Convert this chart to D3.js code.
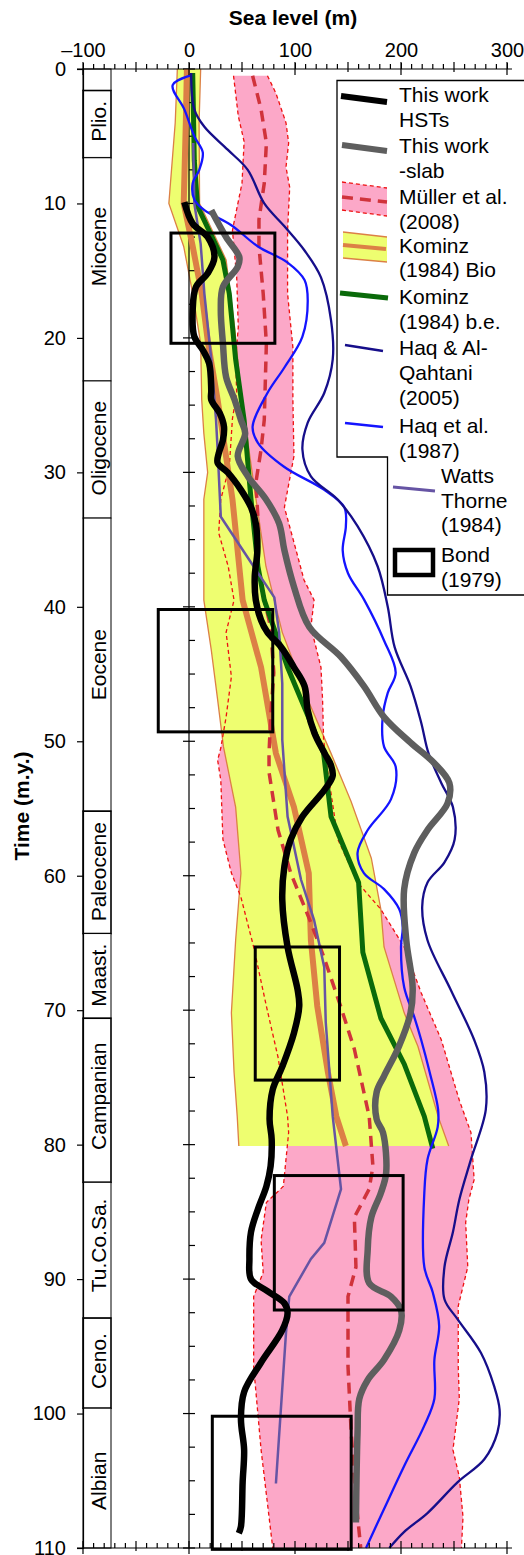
<!DOCTYPE html>
<html><head><meta charset="utf-8">
<script src="https://cdn.jsdelivr.net/npm/d3@7"></script>
<style>
body{margin:0;background:#fff}
svg{display:block}
text{font-family:"Liberation Sans",Arial,Helvetica,sans-serif;fill:#000}
</style>
</head><body>
<svg id="chart" width="524" height="1555"></svg>
<script>
// ---------- tick labels ----------
const seaTicks = [-100, 0, 100, 200, 300];
const timeTicks = [0, 10, 20, 30, 40, 50, 60, 70, 80, 90, 100, 110];

// ---------- stratigraphic column ----------
const stageNames = ["", "Plio.", "Miocene", "Oligocene", "Eocene", "Paleocene", "Maast.", "Campanian", "Tu.Co.Sa.", "Ceno.", "Albian"];
const stageTop = [0, 1.6, 6.6, 23.2, 33.4, 55.2, 64.3, 70.6, 82.8, 92.9, 99.6];
const stageBottom = [1.6, 6.6, 23.2, 33.4, 55.2, 64.3, 70.6, 82.8, 92.9, 99.6, 110];
const stageLabelTime = [null, 3.9, 13.2, 28.2, 44.3, 59.7, 67.4, 76.4, 87.5, 96.1, 105];

// ---------- series: [time (m.y.), sea level (m)] ----------
const hstCurve = [[9.9,-4.4],[11.5,3.5],[12.5,17.6],[14,24],[15.2,17.6],[16.2,6.6],[17.9,3.5],[19.9,5],[20.9,13],[21.9,19],[23.9,21],[24.6,21],[25.6,29],[26.6,33],[27.6,32],[28.6,28],[29.3,27],[30,36.5],[31.3,49],[32.6,58.5],[33.8,63],[35.8,64.5],[37.8,62],[39.5,63],[41,68],[41.9,74],[43,87],[44.5,99],[45.9,109],[47.7,112],[49.4,118.4],[50.9,128],[51.8,134],[52.6,135.5],[53.6,128],[55.6,107],[57.3,96],[59.3,90],[61.8,88],[65.3,93],[68.5,102.5],[69.7,104],[71.7,99],[74.2,88],[75.9,79],[78.1,76],[79.6,78],[81.6,77],[83.1,73],[84.8,65],[86.5,58.5],[88.5,57],[90,58.5],[90.9,74],[91.8,90],[92.5,93],[93.8,88],[96.2,68],[98.4,52],[100.4,49],[102.7,52],[105.1,50.6],[108.4,49],[108.9,47]];

const slabCurve = [[10.5,21],[12.5,35],[14,47.5],[14.7,46],[16.2,32],[17.9,30],[20.4,32],[22.9,35],[24.6,43],[26.1,49],[27.1,53],[28.8,46],[30.3,55.6],[32,72.6],[33.8,85],[35.8,90],[38.5,99],[41.5,113.5],[43.7,143],[45.9,165],[48.2,184],[50.1,209],[51.6,231],[53.1,245.6],[54.6,244],[56.6,225],[58.3,212.5],[61,203],[64.8,205],[68.3,211],[70.2,209],[72.7,198],[74.9,184],[76.1,177],[78.1,177],[79.1,183],[82.1,186],[83.6,181],[85.4,172],[87.8,168.6],[90.3,170],[91.3,190.6],[92.3,200],[93.8,198.4],[96,184],[97.5,168.6],[98.9,160.7],[101.4,159],[108.1,157.5]];

const mullerLow = [[0.5,42],[3.5,46.5],[5.4,52],[8.5,50],[11.2,43],[12,41],[15.5,45],[19.2,46.5],[21.6,44],[24.1,45],[26,41],[29.6,38],[32,30],[34.5,28],[37,37],[39.5,42.5],[41.9,35],[45.2,40],[48.2,35],[50.5,30],[51.4,27],[52.9,30],[57.3,32],[59.8,40],[61.6,49],[65.3,61],[69.7,73],[73.5,84],[77.9,93],[79.1,94],[83.1,89],[84.3,73],[87.1,68],[89.5,70],[91.3,61],[96.5,61],[102.7,68],[110,79]];
const mullerHigh = [[0.5,74],[1.8,82],[4,91.5],[5.5,94],[7.3,91.5],[8.8,95],[12,93],[16.7,93],[20.7,98],[24.6,98],[28.8,99],[32.6,90],[35.2,99],[38,108.5],[39.5,118],[41.5,115],[44.5,124.5],[46.9,126],[49.9,127],[52.3,131],[57.3,140.5],[60.5,159],[62.5,181],[65.3,203],[68.7,219],[72.2,238],[76.7,255],[79.1,266],[82.6,269],[84.1,264],[85.8,261],[89.1,263],[92,254],[96.5,254],[98.9,255],[102.7,249],[104.7,255],[107.7,258.5],[110,257]];
const mullerMid = [[0.5,60],[3,68],[5.5,73],[8.5,71],[11.2,66],[13.2,66],[16.7,70],[20.4,73],[26.1,71],[28.3,68],[30.8,63],[33.3,65],[37,65],[39.5,71],[41.5,77],[44.9,80],[48.2,77],[50.9,75.5],[52.3,75.5],[56.6,84],[59.8,96],[63.5,115],[66,127],[69.7,143],[72.9,156],[77.9,170],[81.6,173.5],[83.3,170],[85.4,156],[89.1,157.5],[91.3,150],[96.5,150],[101.4,153],[106.4,157.5],[110,162]];

const kominzBioLow = [[0,-11],[4,-13],[10,-19],[13.2,-5],[16.7,3.5],[20.4,11],[24.6,12],[27.1,14],[30,17.6],[32,14],[39.5,14],[43.2,21],[46.9,27],[50.4,32.5],[54.9,44],[59.8,49],[64.8,44],[70.2,40],[74.6,42.5],[77.9,45.5],[80.1,47]];
const kominzBioHigh = [[0,11],[4,9.5],[10,10],[14.2,35],[19.2,43],[24.1,49],[30.8,61],[37,72.6],[41.9,88],[46.9,112],[50.9,134],[54.5,153],[58.7,172],[62.5,181],[65.3,184],[70.2,203],[72.7,216],[77.9,235],[80.1,245]];
const kominzBioMid = [[0,-2],[4,-3],[10,-5],[13.2,3.5],[16.7,12],[20.4,18],[24.6,27],[32,41],[39.5,50.6],[44.5,68],[50.9,82],[54.9,99],[59.8,113],[64.8,115],[69.7,121],[74.6,131],[77.9,139],[80.1,148]];
const kominzBE = [[0.3,3.5],[6.8,5],[10.2,8],[14.2,32],[16.7,38],[21.6,44],[26.1,52],[32,58.5],[37,65],[39.5,71],[44.5,93],[50.9,127],[55.6,134],[60.5,160],[65.7,164],[70.6,181],[74,203],[77.9,222],[80.3,230]];

const haqAlQahtani = [[0.3,2],[3,5],[4.3,14.5],[6,36.5],[7.5,55.4],[10,71],[11.7,90],[13.5,109],[15.5,124.5],[18.7,134],[21.6,135.6],[24.1,127.6],[26.3,112],[28.3,107],[30.3,115],[32,140],[34,159],[37,178],[40,187.5],[43,194],[45.9,209],[48.6,219],[50.9,226],[53.1,238],[54.9,249],[57.3,250.6],[59,241],[60.5,225],[62.3,220],[64.8,225],[68.5,247],[72.2,269],[74.6,278.6],[77.4,280],[81.1,266],[84.1,255],[86.5,249],[89.1,241],[91.5,241],[93,253.5],[95.5,275.5],[98,288],[99.7,293],[101.4,291],[103.4,278.6],[105.1,253.5],[107.4,225],[108.8,203],[110,189]];

const haq1987 = [[0.5,1],[1.2,-15.4],[3,-4.4],[5,5],[6.2,13],[7.5,9.7],[8.5,3.5],[9.7,5],[10.5,14.5],[11.6,39.6],[13.2,65],[14.4,93],[15.7,109],[17.2,112],[19.9,107],[22.2,90],[24.1,74],[26.6,60],[27.8,65],[29.6,90],[31.3,127.6],[32.6,146.5],[34,148],[35.8,145],[37.5,150],[39.5,165.4],[42.5,184],[44.9,195],[46.4,187.5],[48.2,182.7],[50.4,184],[51.9,195],[54.3,190.6],[56.6,168.6],[58.3,159],[59.8,165],[61,184],[62.5,198.4],[63.8,201.6],[65.3,200],[68.3,203],[70.5,212.5],[72.2,219],[74.6,227],[77.4,235],[78.7,234.6],[81.1,225],[83.6,222],[89.1,222],[91,230],[93.5,236],[96,231.5],[98.9,231.5],[100.9,222],[103.9,203],[107.1,184],[110,167]];

const wattsThorne = [[5.5,4],[10,5],[13,11],[16.7,14.5],[21.6,21],[26.1,25.5],[28.3,27],[33.3,30],[36.7,58.5],[39.3,80.5],[41.9,85],[45.7,88],[49.9,88],[55.6,93],[60.3,105.7],[63.3,118],[66.8,127.6],[70.9,129],[77.9,135.6],[83.3,143.4],[87.3,127.6],[88.5,115],[91.3,94.6],[94,91.5],[105.2,82]];

// Bond (1979) boxes
const bondTimeTop = [12.2, 40.2, 65.3, 82.3, 100.2];
const bondTimeBottom = [20.4, 49.3, 75.2, 92.3, 110.1];
const bondLow = [-17, -29, 62.5, 80.5, 22];
const bondHigh = [81, 79, 142, 202, 153];

// ---------- legend ----------
const legendLabels = [["This work","HSTs"],["This work","-slab"],["Müller et al.","(2008)"],["Kominz","(1984) Bio"],["Kominz","(1984) b.e."],["Haq & Al-","Qahtani","(2005)"],["Haq et al.","(1987)"],["Watts","Thorne","(1984)"],["Bond","(1979)"]];

// ---------- colours ----------
const C = {
  pink:"#fca8c8", yellow:"#eefe70", orange:"#dc8046", redThin:"#ee1111", redThick:"#d0333b",
  green:"#0a6a0a", navy:"#160e8a", blue:"#1414ff", purple:"#6654a4", gray:"#5e5e5e", black:"#000"
};

// ---------- scales ----------
const x = d3.scaleLinear().domain([-100, 300]).range([83, 507]);
const y = d3.scaleLinear().domain([0, 110]).range([69, 1548]);
const svg = d3.select("#chart");
svg.append("rect").attr("width",524).attr("height",1555).attr("fill","#fff");

const lin = d3.line().x(d => x(d[1])).y(d => y(d[0]));
const smooth = d3.line().x(d => x(d[1])).y(d => y(d[0])).curve(d3.curveCatmullRom.alpha(0.5));

// bands
svg.append("path").attr("d", lin(mullerLow.concat(mullerHigh.slice().reverse())) + "Z").attr("fill", C.pink);
svg.append("path").attr("d", lin(kominzBioLow.concat(kominzBioHigh.slice().reverse())) + "Z").attr("fill", C.yellow);

// band edges
[kominzBioLow, kominzBioHigh].forEach(s => svg.append("path").attr("d", lin(s)).attr("fill","none").attr("stroke", C.orange).attr("stroke-width", 1.3));
[mullerLow, mullerHigh].forEach(s => svg.append("path").attr("d", lin(s)).attr("fill","none").attr("stroke", C.redThin).attr("stroke-width", 1.3).attr("stroke-dasharray","4,3"));

// zero line with ticks
const g0 = svg.append("g");
g0.append("line").attr("x1", x(0)).attr("x2", x(0)).attr("y1", y(0)).attr("y2", y(110)).attr("stroke","#000").attr("stroke-width",1.2);
d3.range(0, 110.01, 2.5).forEach(t => {
  const major = t % 10 === 0;
  g0.append("line").attr("x1", major ? x(0)-6 : x(0)).attr("x2", x(0)+6).attr("y1", y(t)).attr("y2", y(t)).attr("stroke","#000").attr("stroke-width",1.2);
});

// series lines
svg.append("path").attr("d", lin(kominzBioMid)).attr("fill","none").attr("stroke", C.orange).attr("stroke-width", 6);
svg.append("path").attr("d", lin(mullerMid)).attr("fill","none").attr("stroke", C.redThick).attr("stroke-width", 3.5).attr("stroke-dasharray","11,7");
svg.append("path").attr("d", lin(kominzBE)).attr("fill","none").attr("stroke", C.green).attr("stroke-width", 5);
svg.append("path").attr("d", lin(wattsThorne)).attr("fill","none").attr("stroke", C.purple).attr("stroke-width", 2.5);
svg.append("path").attr("d", smooth(haq1987)).attr("fill","none").attr("stroke", C.blue).attr("stroke-width", 2.3);
svg.append("path").attr("d", smooth(haqAlQahtani)).attr("fill","none").attr("stroke", C.navy).attr("stroke-width", 2.3);
svg.append("path").attr("d", smooth(slabCurve)).attr("fill","none").attr("stroke", C.gray).attr("stroke-width", 6.5);
svg.append("path").attr("d", smooth(hstCurve)).attr("fill","none").attr("stroke", C.black).attr("stroke-width", 6.5);

// Bond boxes
bondTimeTop.forEach((t0, i) => {
  svg.append("rect").attr("x", x(bondLow[i])).attr("y", y(t0))
    .attr("width", x(bondHigh[i]) - x(bondLow[i])).attr("height", y(bondTimeBottom[i]) - y(t0))
    .attr("fill","none").attr("stroke","#000").attr("stroke-width",3);
});

// stratigraphic column
const colL = x(-100), colR = 111;
stageNames.forEach((n, i) => {
  const thick = [1,5,7,9].includes(i);
  svg.append("rect").attr("x", colL).attr("y", y(stageTop[i])).attr("width", colR - colL)
    .attr("height", y(stageBottom[i]) - y(stageTop[i])).attr("fill","#fff")
    .attr("stroke","#000").attr("stroke-width", thick ? 1.6 : 1);
  if (n) svg.append("text").attr("transform", `translate(${colR-5},${y(stageLabelTime[i])}) rotate(-90)`)
    .attr("text-anchor","middle").attr("font-size",21).text(n);
});

// left axis
const leftAxis = d3.axisLeft(y).tickValues(timeTicks).tickSize(6).tickPadding(11);
const gl = svg.append("g").attr("transform", `translate(${x(-100)},0)`).call(leftAxis);
gl.selectAll("text").attr("font-size",20).attr("font-family","Liberation Sans, Arial, sans-serif");
gl.selectAll("line").attr("stroke-width",1.2);
gl.select(".domain").attr("stroke-width",1.2);

// top axis
const fmt = v => v < 0 ? "\u2013" + Math.abs(v) : String(v);
const topAxis = d3.axisTop(x).tickValues(seaTicks).tickSize(6).tickPadding(6).tickFormat(fmt);
const gt = svg.append("g").attr("transform", `translate(0,${y(0)})`).call(topAxis);
gt.selectAll("text").attr("font-size",20).attr("font-family","Liberation Sans, Arial, sans-serif");
gt.select(".domain").remove();
svg.append("line").attr("x1",77).attr("x2",512).attr("y1",y(0)).attr("y2",y(0)).attr("stroke","#000").attr("stroke-width",1.2);
d3.range(-100, 300.01, 10).forEach(v => {
  const m100 = v % 100 === 0, m50 = v % 50 === 0;
  svg.append("line").attr("x1",x(v)).attr("x2",x(v))
    .attr("y1", y(0) - (m50 ? 7 : 5)).attr("y2", y(0) + (m100 ? 6 : (m50 ? 3 : 0)))
    .attr("stroke","#000").attr("stroke-width",1.2);
});
// bottom axis
const bottomAxis = d3.axisBottom(x).tickValues(seaTicks).tickSize(0).tickFormat("");
const gb = svg.append("g").attr("transform", `translate(0,${y(110)})`).call(bottomAxis);
gb.select(".domain").remove();
svg.append("line").attr("x1",77).attr("x2",512).attr("y1",y(110)).attr("y2",y(110)).attr("stroke","#000").attr("stroke-width",1.2);
d3.range(-100, 300.01, 10).forEach(v => {
  const m100 = v % 100 === 0, m50 = v % 50 === 0;
  svg.append("line").attr("x1",x(v)).attr("x2",x(v))
    .attr("y1", y(110) - (m50 ? 7 : 5)).attr("y2", y(110) + (m100 ? 6 : (m50 ? 3 : 0)))
    .attr("stroke","#000").attr("stroke-width",1.2);
});

// titles
svg.append("text").attr("x",293).attr("y",25).attr("text-anchor","middle").attr("font-size",21).attr("font-weight","bold").text("Sea level (m)");
svg.append("text").attr("transform","translate(29,806) rotate(-90)").attr("text-anchor","middle").attr("font-size",21).attr("font-weight","bold").text("Time (m.y.)");

// legend frame
const lg = svg.append("g");
lg.append("path").attr("d","M526,80.5 H337 V457 H387.5 V595 H526").attr("fill","#fff").attr("stroke","#000").attr("stroke-width",1.3);

// swatches
lg.append("line").attr("x1",341).attr("y1",96).attr("x2",387).attr("y2",102).attr("stroke",C.black).attr("stroke-width",6);
lg.append("line").attr("x1",342).attr("y1",145).attr("x2",387).attr("y2",151).attr("stroke",C.gray).attr("stroke-width",6);
lg.append("path").attr("d","M342,182 L387,188 L387,216 L342,210 Z").attr("fill",C.pink);
lg.append("line").attr("x1",342).attr("y1",182).attr("x2",387).attr("y2",188).attr("stroke",C.redThin).attr("stroke-width",1.3).attr("stroke-dasharray","4,3");
lg.append("line").attr("x1",342).attr("y1",210).attr("x2",387).attr("y2",216).attr("stroke",C.redThin).attr("stroke-width",1.3).attr("stroke-dasharray","4,3");
lg.append("line").attr("x1",342).attr("y1",197).attr("x2",387).attr("y2",202).attr("stroke",C.redThick).attr("stroke-width",3.5).attr("stroke-dasharray","11,7");
lg.append("path").attr("d","M343,232 L387,237 L387,262 L343,258 Z").attr("fill",C.yellow);
lg.append("line").attr("x1",343).attr("y1",232).attr("x2",387).attr("y2",237).attr("stroke",C.orange).attr("stroke-width",1.3);
lg.append("line").attr("x1",343).attr("y1",258).attr("x2",387).attr("y2",262).attr("stroke",C.orange).attr("stroke-width",1.3);
lg.append("line").attr("x1",343).attr("y1",245).attr("x2",386).attr("y2",249).attr("stroke",C.orange).attr("stroke-width",4);
lg.append("line").attr("x1",340).attr("y1",293).attr("x2",388).attr("y2",298).attr("stroke",C.green).attr("stroke-width",5);
lg.append("line").attr("x1",345).attr("y1",345).attr("x2",383).attr("y2",351).attr("stroke",C.navy).attr("stroke-width",2.5);
lg.append("line").attr("x1",345).attr("y1",423).attr("x2",383).attr("y2",427).attr("stroke",C.blue).attr("stroke-width",2.5);
lg.append("line").attr("x1",393).attr("y1",487).attr("x2",435).attr("y2",491).attr("stroke",C.purple).attr("stroke-width",3);
lg.append("rect").attr("x",395).attr("y",550).attr("width",38).attr("height",25).attr("fill","none").attr("stroke","#000").attr("stroke-width",4.5);

// legend text
const baselines = [[102,127],[153,177.5],[204,228.5],[253,277],[303.5,328.5],[355,380,405],[433,458],[483,507.5,532],[562,587]];
legendLabels.forEach((lines, i) => {
  const tx = i >= 7 ? 441 : 399;
  lines.forEach((s, j) => lg.append("text").attr("x",tx).attr("y",baselines[i][j]).attr("font-size",21).text(s));
});
</script>
</body></html>
